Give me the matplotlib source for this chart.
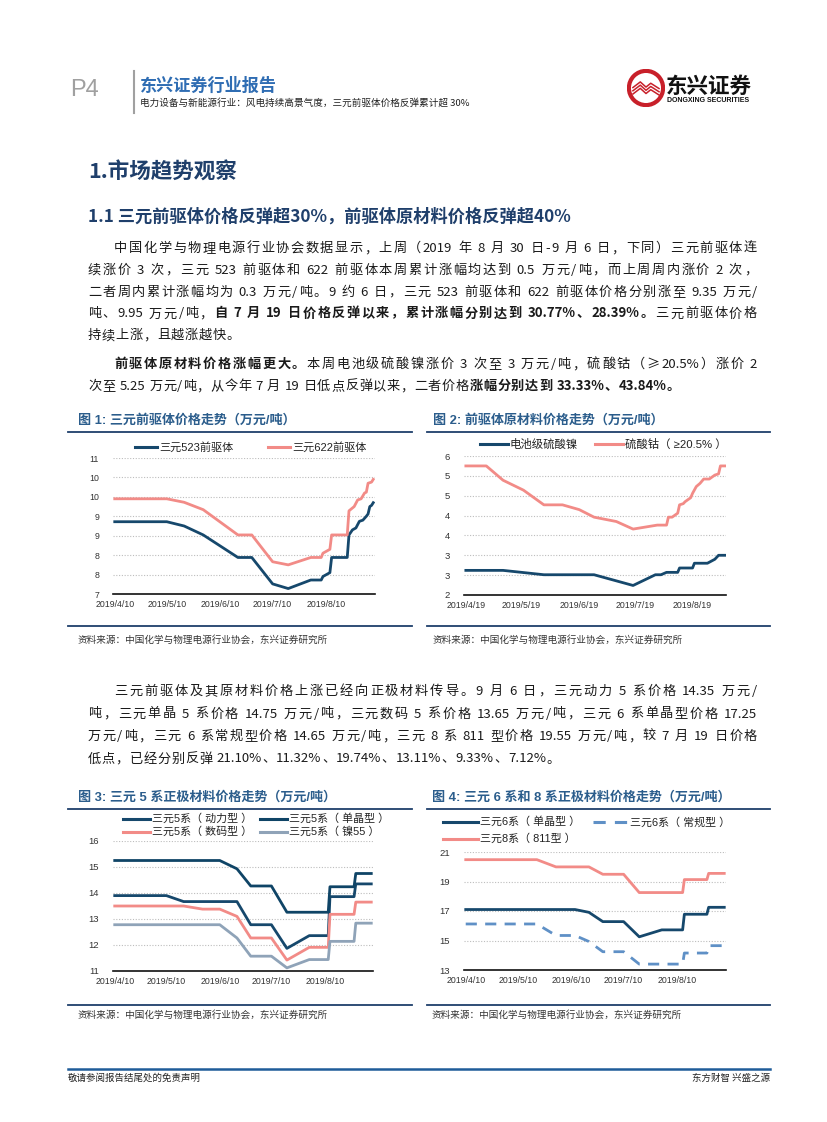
import re
import matplotlib
matplotlib.use('Agg')
import matplotlib.pyplot as plt
import matplotlib.dates as mdates
from matplotlib.lines import Line2D
from matplotlib.patches import Circle
from matplotlib.ticker import FuncFormatter
import numpy as np
import pandas as pd

W, H = 827, 1122
CJK = ['Noto Sans CJK SC', 'DejaVu Sans']
NUM = ['Liberation Sans', 'Noto Sans CJK SC', 'DejaVu Sans']
NAVY = '#1f3f6b'
BLUE = '#2b5d8c'
TXT = '#1a1a1a'
DARK = '#16486c'
PINK = '#f28b87'
GREY = '#8fa3b8'
LBLUE = '#5f90c6'

# ---- data: fig 1, ternary precursor prices (10k yuan / t)
c1_523_dates = ['2019-04-10', '2019-05-10', '2019-05-20', '2019-05-31', '2019-06-20', '2019-06-28',
                '2019-07-10', '2019-07-19', '2019-08-01', '2019-08-07', '2019-08-08', '2019-08-12',
                '2019-08-13', '2019-08-22', '2019-08-23', '2019-08-25', '2019-08-27', '2019-08-29',
                '2019-08-31', '2019-09-02', '2019-09-03', '2019-09-04', '2019-09-05', '2019-09-06']
c1_523_vals = [8.86, 8.86, 8.75, 8.52, 7.94, 7.94,
               7.26, 7.14, 7.36, 7.36, 7.45, 7.55,
               7.94, 7.94, 8.52, 8.65, 8.70, 8.87,
               8.90, 9.00, 9.06, 9.25, 9.28, 9.35]
c1_622_dates = ['2019-04-10', '2019-05-10', '2019-05-20', '2019-05-31', '2019-06-20', '2019-06-28',
                '2019-07-10', '2019-07-19', '2019-08-01', '2019-08-07', '2019-08-08', '2019-08-12',
                '2019-08-13', '2019-08-22', '2019-08-23', '2019-08-26', '2019-08-28', '2019-08-30',
                '2019-09-01', '2019-09-02', '2019-09-03', '2019-09-05', '2019-09-06']
c1_622_vals = [9.45, 9.45, 9.36, 9.17, 8.52, 8.52,
               7.83, 7.75, 7.94, 7.94, 8.05, 8.15,
               8.52, 8.52, 9.14, 9.25, 9.42, 9.45,
               9.60, 9.62, 9.85, 9.88, 9.95]

# ---- fig 2, raw materials
c2_ni_dates = ['2019-04-19', '2019-05-09', '2019-05-31', '2019-06-27', '2019-07-18', '2019-07-30',
               '2019-08-02', '2019-08-05', '2019-08-11', '2019-08-12', '2019-08-19', '2019-08-20',
               '2019-08-27', '2019-08-31', '2019-09-02', '2019-09-06']
c2_ni_vals = [2.62, 2.62, 2.51, 2.51, 2.24, 2.51,
              2.51, 2.57, 2.57, 2.68, 2.68, 2.80,
              2.80, 2.90, 3.00, 3.00]
c2_co_dates = ['2019-04-19', '2019-04-30', '2019-05-09', '2019-05-20', '2019-05-31', '2019-06-10',
               '2019-06-19', '2019-06-27', '2019-07-09', '2019-07-18', '2019-07-31', '2019-08-05',
               '2019-08-06', '2019-08-08', '2019-08-11', '2019-08-12', '2019-08-14', '2019-08-15',
               '2019-08-18', '2019-08-19', '2019-08-21', '2019-08-23', '2019-08-25', '2019-08-28',
               '2019-08-31', '2019-09-02', '2019-09-03', '2019-09-06']
c2_co_vals = [5.25, 5.25, 4.89, 4.64, 4.27, 4.27,
              4.15, 3.96, 3.85, 3.66, 3.76, 3.76,
              3.96, 3.96, 4.06, 4.27, 4.30, 4.35,
              4.45, 4.56, 4.73, 4.81, 4.92, 4.92,
              5.02, 5.05, 5.25, 5.25]

# ---- fig 3, NCM5 cathode
c3_dates = ['2019-04-10', '2019-05-10', '2019-05-20', '2019-05-31', '2019-06-10', '2019-06-20',
            '2019-06-28', '2019-07-10', '2019-07-19', '2019-08-01', '2019-08-12', '2019-08-13',
            '2019-08-27', '2019-08-28', '2019-09-06']
c3_power = [13.90, 13.90, 13.67, 13.67, 13.67, 13.67, 12.78, 12.78, 11.87, 12.36, 12.36, 13.86, 13.86, 14.35, 14.35]
c3_single = [15.25, 15.25, 15.25, 15.25, 15.25, 14.93, 14.27, 14.27, 13.26, 13.26, 13.26, 14.24, 14.24, 14.75, 14.75]
c3_digital = [13.50, 13.50, 13.50, 13.38, 13.38, 13.10, 12.27, 12.27, 11.42, 11.91, 11.91, 13.18, 13.18, 13.65, 13.65]
c3_ni55 = [12.78, 12.78, 12.78, 12.78, 12.78, 12.27, 11.57, 11.57, 11.12, 11.44, 11.44, 12.14, 12.14, 12.84, 12.84]

# ---- fig 4, NCM6 / NCM8 cathode
c4_dates = ['2019-04-10', '2019-05-21', '2019-06-01', '2019-06-12', '2019-06-20', '2019-06-28',
            '2019-07-10', '2019-07-19', '2019-08-01', '2019-08-13', '2019-08-14', '2019-08-27',
            '2019-08-28', '2019-09-06']
c4_6single = [17.10, 17.10, 17.10, 17.10, 16.91, 16.28, 16.28, 15.25, 15.72, 15.72, 16.78, 16.78, 17.25, 17.25]
c4_6normal = [16.12, 16.12, 15.34, 15.34, 14.93, 14.24, 14.24, 13.40, 13.40, 13.40, 14.15, 14.15, 14.65, 14.65]
c4_811 = [20.48, 20.48, 19.99, 19.99, 19.99, 19.49, 19.49, 18.25, 18.25, 18.25, 19.13, 19.13, 19.55, 19.55]

fig = plt.figure(figsize=(W / 100, H / 100), dpi=100)
renderer = fig.canvas.get_renderer()


def fx(x):
    return x / W


def fy(y):
    return 1 - y / H


def hline(x0, x1, y, color=NAVY, lw=1.3):
    fig.add_artist(Line2D([fx(x0), fx(x1)], [fy(y), fy(y)], color=color, lw=lw))


_wcache = {}


def tok_w(tk, bold, size):
    key = (tk, bold, size)
    if key not in _wcache:
        wt = 'bold' if bold else 'normal'
        t1 = fig.text(0, 0, '|' + tk + '|', fontsize=size, family=CJK, weight=wt)
        t2 = fig.text(0, 0, '||', fontsize=size, family=CJK, weight=wt)
        _wcache[key] = t1.get_window_extent(renderer).width - t2.get_window_extent(renderer).width
        t1.remove()
        t2.remove()
    return _wcache[key]


def put_line(y, runs, x0, x1=757, justify=True, size=9.5):
    toks = []
    for text, bold in runs:
        for tk in re.findall(r'[A-Za-z0-9.%]+| |.', text):
            toks.append((tk, bold))
    widths = [tok_w(tk, b, size) for tk, b in toks]
    gap = 0.6
    if justify and len(toks) > 1:
        gap = (x1 - x0 - sum(widths)) / (len(toks) - 1)
    x = x0
    for (tk, b), w in zip(toks, widths):
        if tk != ' ':
            fig.text(fx(x), fy(y), tk, fontsize=size, family=CJK, color=TXT,
                     weight='bold' if b else 'normal', ha='left', va='baseline')
        x += w + gap


# ---- header
fig.text(fx(70), fy(90), 'P4', fontsize=17, family=NUM, color='#a0a0a0', va='center')
fig.add_artist(Line2D([fx(134), fx(134)], [fy(71), fy(113)], color='#a0a0a0', lw=1.5))
fig.text(fx(140), fy(86), '东兴证券行业报告', fontsize=12.3, family=CJK, weight='bold',
         color='#2f6db3', va='center')
fig.text(fx(140), fy(103), '电力设备与新能源行业：风电持续高景气度，三元前驱体价格反弹累计超 30%',
         fontsize=6.9, family=CJK, color='#222222', va='center')
lax = fig.add_axes([fx(627), fy(107), 38 / W, 38 / H])
lax.set_xlim(-1, 1)
lax.set_ylim(-1, 1)
lax.set_aspect('equal')
lax.axis('off')
lax.add_patch(Circle((0, 0), 0.9, facecolor='white', edgecolor='#c8202a', lw=3.0))
for k in range(3):
    d = k * 0.17
    lax.plot([-0.72, -0.3, 0.0, 0.25, 0.72], [0.0 - d, 0.32 - d, 0.05 - d, 0.25 - d, -0.05 - d],
             color='#c8202a', lw=1.1, solid_capstyle='butt')
fig.text(fx(666), fy(86), '东兴证券', fontsize=15.5, family=CJK, weight='bold', color='#111111', va='center')
fig.text(fx(667), fy(101), 'DONGXING SECURITIES', fontsize=5, family=NUM, weight='bold',
         color='#111111', va='center')

# ---- section headings
fig.text(fx(88), fy(172), '1.市场趋势观察', fontsize=15.5, family=CJK, weight='bold', color=NAVY, va='center')
fig.text(fx(88), fy(217), '1.1 三元前驱体价格反弹超30%，前驱体原材料价格反弹超40%', fontsize=12.4,
         family=CJK, weight='bold', color=NAVY, va='center')

# ---- paragraph 1
p1 = [
    [('中国化学与物理电源行业协会数据显示，上周（2019 年 8 月 30 日-9 月 6 日，下同）三元前驱体连', False)],
    [('续涨价 3 次，三元 523 前驱体和 622 前驱体本周累计涨幅均达到 0.5 万元/吨，而上周周内涨价 2 次，', False)],
    [('二者周内累计涨幅均为 0.3 万元/吨。9 约 6 日，三元 523 前驱体和 622 前驱体价格分别涨至 9.35 万元/', False)],
    [('吨、9.95 万元/吨，', False), ('自 7 月 19 日价格反弹以来，累计涨幅分别达到 30.77%、28.39%。', True),
     ('三元前驱体价格', False)],
    [('持续上涨，且越涨越快。', False)],
]
for i, runs in enumerate(p1):
    put_line(252 + 21.8 * i, runs, 114 if i == 0 else 88, justify=(i < 4))

p2 = [
    [('前驱体原材料价格涨幅更大。', True), ('本周电池级硫酸镍涨价 3 次至 3 万元/吨，硫酸钴（≥20.5%）涨价 2', False)],
    [('次至 5.25 万元/吨，从今年 7 月 19 日低点反弹以来，二者价格', False), ('涨幅分别达到 33.33%、43.84%。', True)],
]
for i, runs in enumerate(p2):
    put_line(368 + 22 * i, runs, 114 if i == 0 else 88, justify=(i < 1))

p3 = [
    [('三元前驱体及其原材料价格上涨已经向正极材料传导。9 月 6 日，三元动力 5 系价格 14.35 万元/', False)],
    [('吨，三元单晶 5 系价格 14.75 万元/吨，三元数码 5 系价格 13.65 万元/吨，三元 6 系单晶型价格 17.25', False)],
    [('万元/吨，三元 6 系常规型价格 14.65 万元/吨，三元 8 系 811 型价格 19.55 万元/吨，较 7 月 19 日价格', False)],
    [('低点，已经分别反弹 21.10%、11.32%、19.74%、13.11%、9.33%、7.12%。', False)],
]
for i, runs in enumerate(p3):
    put_line(695 + 22.5 * i, runs, 114 if i == 0 else 88, justify=(i < 3))


# ---- chart frames
def frame(x0, x1, title, y_title, y_top, y_bot, y_src, tx):
    fig.text(fx(tx), fy(y_title), title, fontsize=9.4, family=NUM, weight='bold', color=BLUE, va='center')
    hline(x0, x1, y_top)
    hline(x0, x1, y_bot)
    fig.text(fx(tx), fy(y_src), '资料来源：中国化学与物理电源行业协会，东兴证券研究所', fontsize=6.9,
             family=CJK, color='#333333', va='center')


frame(68, 412, '图 1: 三元前驱体价格走势（万元/吨）', 420, 432, 626, 640, 78)
frame(427, 770, '图 2: 前驱体原材料价格走势（万元/吨）', 420, 432, 626, 640, 433)
frame(68, 412, '图 3: 三元 5 系正极材料价格走势（万元/吨）', 797, 809, 1005, 1015, 78)
frame(427, 770, '图 4: 三元 6 系和 8 系正极材料价格走势（万元/吨）', 797, 809, 1005, 1015, 432)


def excel_int(v, pos):
    return str(int(np.floor(v + 0.5 + 1e-9)))


def date_lbl(v, pos):
    d = mdates.num2date(v)
    return '2019/%d/%d' % (d.month, d.day)


def make_axes(x0, x1, y0, y1, ylim, yticks, yfmt, xlim, xticks, ysize=6.3):
    ax = fig.add_axes([fx(x0), fy(y1), (x1 - x0) / W, (y1 - y0) / H])
    ax.set_ylim(*ylim)
    ax.set_yticks(yticks)
    ax.yaxis.set_major_formatter(FuncFormatter(yfmt))
    ax.set_xlim(pd.Timestamp(xlim[0]), pd.Timestamp(xlim[1]))
    ax.set_xticks(pd.to_datetime(xticks))
    ax.xaxis.set_major_formatter(FuncFormatter(date_lbl))
    for s in ['top', 'right', 'left']:
        ax.spines[s].set_visible(False)
    ax.spines['bottom'].set_color('#111111')
    ax.spines['bottom'].set_linewidth(1.2)
    ax.set_zorder(0)
    ax.grid(axis='y', color='#bdbdbd', lw=0.8, ls=(0, (1, 1.5)))
    ax.tick_params(axis='both', length=0, labelsize=6.3, labelcolor='#333333')
    ax.tick_params(axis='y', pad=10, labelsize=ysize)
    ax.tick_params(axis='x', pad=4)
    for lb in ax.get_xticklabels() + ax.get_yticklabels():
        lb.set_family(NUM)
    ax.patch.set_alpha(0)
    return ax


def legend_item(x, y, label, color, ls='-', hw=24, size=7.9):
    fig.add_artist(Line2D([fx(x), fx(x + hw)], [fy(y), fy(y)], color=color, lw=2.2, ls=ls))
    fig.text(fx(x + hw + 2), fy(y), label, fontsize=size, family=NUM, color='#222222', va='center')


ticks_a = ['2019-04-10', '2019-05-10', '2019-06-10', '2019-07-10', '2019-08-10']
ticks_b = ['2019-04-19', '2019-05-19', '2019-06-19', '2019-07-19', '2019-08-19']

ax1 = make_axes(113, 375, 458, 594, (7, 10.5), np.arange(7, 10.51, 0.5), excel_int,
                ('2019-04-09', '2019-09-07'), ticks_a)
ax1.plot(pd.to_datetime(c1_523_dates), c1_523_vals, color=DARK, lw=2)
ax1.plot(pd.to_datetime(c1_622_dates), c1_622_vals, color=PINK, lw=2)
legend_item(135, 447, '三元523前驱体', DARK, hw=22, size=8)
legend_item(268, 447, '三元622前驱体', PINK, hw=22, size=8)

ax2 = make_axes(464, 726, 456, 595, (2, 5.5), np.arange(2, 5.51, 0.5), excel_int,
                ('2019-04-18', '2019-09-06'), ticks_b, ysize=6.8)
ax2.plot(pd.to_datetime(c2_ni_dates), c2_ni_vals, color=DARK, lw=2)
ax2.plot(pd.to_datetime(c2_co_dates), c2_co_vals, color=PINK, lw=2)
legend_item(480, 444, '电池级硫酸镍', DARK, hw=28, size=8.2)
legend_item(595, 444, '硫酸钴（ ≥20.5% ）', PINK, hw=28, size=8.2)

ax3 = make_axes(113, 373, 841, 971, (11, 16), np.arange(11, 16.1, 1), excel_int,
                ('2019-04-09', '2019-09-07'), ticks_a, ysize=6.8)
d3 = pd.to_datetime(c3_dates)
ax3.plot(d3, c3_power, color=DARK, lw=2)
ax3.plot(d3, c3_single, color='#0f4466', lw=2)
ax3.plot(d3, c3_digital, color=PINK, lw=2)
ax3.plot(d3, c3_ni55, color=GREY, lw=2)
legend_item(123, 819, '三元5系（ 动力型 ）', DARK, hw=27)
legend_item(260, 819, '三元5系（ 单晶型 ）', '#0f4466', hw=27)
legend_item(123, 832, '三元5系（ 数码型 ）', PINK, hw=27)
legend_item(260, 832, '三元5系（ 镍55 ）', GREY, hw=27)

ax4 = make_axes(464, 726, 852, 970, (13, 21), np.arange(13, 21.1, 2), excel_int,
                ('2019-04-09', '2019-09-07'), ticks_a, ysize=6.8)
d4 = pd.to_datetime(c4_dates)
ax4.plot(d4, c4_6single, color=DARK, lw=2)
ax4.plot(d4, c4_6normal, color=LBLUE, lw=2, ls=(0, (4, 3)))
ax4.plot(d4, c4_811, color=PINK, lw=2)
legend_item(443, 822, '三元6系（ 单晶型 ）', DARK, hw=35)
legend_item(593, 822, '三元6系（ 常规型 ）', LBLUE, ls=(0, (4, 3)), hw=35)
legend_item(443, 839, '三元8系（ 811型 ）', PINK, hw=35)

# ---- footer
hline(68, 770, 1069, color='#1f5c99', lw=1.8)
fig.text(fx(68), fy(1078), '敬请参阅报告结尾处的免责声明', fontsize=6.8, family=CJK, color='#222222', va='center')
fig.text(fx(770), fy(1078), '东方财智 兴盛之源', fontsize=6.8, family=CJK, color='#222222',
         va='center', ha='right')

fig.savefig('out.png', dpi=100)
